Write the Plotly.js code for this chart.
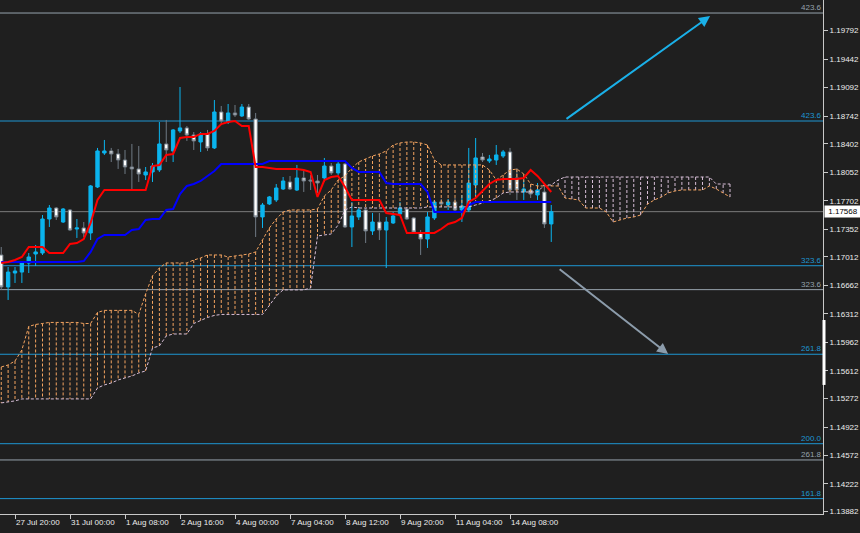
<!DOCTYPE html>
<html><head><meta charset="utf-8">
<script src="https://cdn.plot.ly/plotly-3.0.1.min.js"></script>
<style>html,body{margin:0;padding:0;background:#1f1f1f;}#chart{width:860px;height:533px;}</style>
</head><body><div id="chart"></div>
<script>
// ---- data (H4 bars, index 0 = 27 Jul 20:00) ----
const FIRST_BAR = -2;
const candleOpen = [1.17036,1.16643,1.16814,1.16826,1.16937,1.17048,1.17060,1.17478,1.17613,1.17441,1.17589,1.17355,1.17368,1.17306,1.17871,1.18289,1.18314,1.18277,1.18203,1.18117,1.18093,1.18019,1.18056,1.18081,1.18400,1.18314,1.18560,1.18597,1.18510,1.18424,1.18523,1.18351,1.18793,1.18670,1.18781,1.18744,1.18854,1.18707,1.17503,1.17663,1.17712,1.17847,1.17933,1.17834,1.17982,1.17957,1.17945,1.17982,1.18129,1.18044,1.18154,1.17380,1.17503,1.17589,1.17331,1.17441,1.17343,1.17429,1.17540,1.17601,1.17491,1.17306,1.17232,1.17491,1.17687,1.17650,1.17687,1.17589,1.17589,1.17896,1.18240,1.18191,1.18203,1.18252,1.18302,1.17982,1.17810,1.17834,1.17773,1.17810,1.17417];
const candleHigh = [1.17134,1.16888,1.16888,1.16962,1.17060,1.17159,1.17527,1.17650,1.17625,1.17613,1.17601,1.17478,1.17441,1.17896,1.18351,1.18449,1.18351,1.18338,1.18326,1.18400,1.18375,1.18117,1.18166,1.18670,1.18695,1.18584,1.19100,1.18621,1.18547,1.18547,1.18572,1.18940,1.18867,1.18891,1.18879,1.18891,1.18891,1.18781,1.17675,1.17761,1.17908,1.17994,1.18006,1.18142,1.18081,1.18019,1.18019,1.18228,1.18166,1.18178,1.18166,1.17687,1.17625,1.17613,1.17552,1.17552,1.17503,1.17564,1.17687,1.17625,1.17503,1.17343,1.17564,1.17712,1.17724,1.17724,1.17736,1.17773,1.18351,1.18473,1.18289,1.18265,1.18387,1.18326,1.18351,1.18105,1.17957,1.17896,1.17920,1.17920,1.17650];
const candleLow = [1.16606,1.16483,1.16692,1.16692,1.16814,1.16900,1.17036,1.17380,1.17466,1.17429,1.17331,1.17245,1.17257,1.17220,1.17859,1.18265,1.18178,1.18093,1.18031,1.17834,1.17933,1.17957,1.17933,1.18056,1.18178,1.18178,1.18535,1.18437,1.18326,1.18302,1.18314,1.18338,1.18645,1.18645,1.18732,1.18732,1.18695,1.17257,1.17368,1.17650,1.17687,1.17834,1.17834,1.17822,1.17810,1.17834,1.17798,1.17933,1.18019,1.18019,1.17368,1.17134,1.17466,1.17183,1.17282,1.17220,1.16876,1.17417,1.17527,1.17466,1.17306,1.17036,1.17122,1.17466,1.17625,1.17589,1.17564,1.17441,1.17564,1.17773,1.18178,1.18166,1.18142,1.18228,1.17773,1.17712,1.17712,1.17736,1.17712,1.17368,1.17196];
const candleClose = [1.16643,1.16826,1.16839,1.16937,1.17011,1.17073,1.17478,1.17613,1.17503,1.17601,1.17343,1.17368,1.17306,1.17884,1.18314,1.18314,1.18277,1.18203,1.18117,1.18093,1.18031,1.18056,1.18129,1.18400,1.18326,1.18572,1.18597,1.18510,1.18437,1.18523,1.18351,1.18793,1.18682,1.18781,1.18756,1.18854,1.18707,1.17503,1.17650,1.17749,1.17859,1.17945,1.17847,1.17982,1.17945,1.17945,1.17920,1.18129,1.18044,1.18154,1.17380,1.17515,1.17589,1.17331,1.17441,1.17343,1.17441,1.17515,1.17613,1.17478,1.17318,1.17232,1.17503,1.17687,1.17663,1.17687,1.17589,1.17638,1.17920,1.18228,1.18203,1.18215,1.18265,1.18302,1.17834,1.17834,1.17847,1.17785,1.17834,1.17417,1.17568];
const tenkanSen = [1.16937,1.16950,1.16974,1.17011,1.17134,1.17134,1.17134,1.17060,1.17060,1.17060,1.17171,1.17183,1.17232,1.17429,1.17712,1.17834,1.17834,1.17834,1.17834,1.17834,1.17834,1.17834,1.18129,1.18142,1.18265,1.18277,1.18473,1.18486,1.18486,1.18523,1.18523,1.18560,1.18645,1.18670,1.18682,1.18621,1.18621,1.18117,1.18117,1.18105,1.18093,1.18093,1.18093,1.18093,1.18081,1.18056,1.17749,1.17957,1.17994,1.18006,1.17871,1.17712,1.17712,1.17712,1.17712,1.17712,1.17552,1.17540,1.17527,1.17306,1.17306,1.17306,1.17306,1.17306,1.17355,1.17417,1.17441,1.17491,1.17687,1.17736,1.17822,1.17908,1.17957,1.17970,1.17970,1.17970,1.17982,1.18080,1.18007,1.17908,1.17810];
const kijunSen = [1.16950,1.16950,1.16950,1.16950,1.16950,1.16950,1.16950,1.16950,1.16950,1.16950,1.16950,1.16950,1.16962,1.17073,1.17232,1.17282,1.17282,1.17282,1.17282,1.17343,1.17355,1.17466,1.17478,1.17478,1.17589,1.17601,1.17785,1.17884,1.17908,1.17945,1.18006,1.18068,1.18154,1.18154,1.18154,1.18154,1.18154,1.18154,1.18154,1.18191,1.18191,1.18191,1.18191,1.18191,1.18191,1.18191,1.18191,1.18191,1.18191,1.18191,1.18191,1.18105,1.18056,1.18056,1.18056,1.18056,1.17920,1.17908,1.17908,1.17908,1.17908,1.17908,1.17810,1.17564,1.17564,1.17564,1.17564,1.17564,1.17650,1.17687,1.17687,1.17687,1.17687,1.17687,1.17687,1.17687,1.17687,1.17687,1.17687,1.17687,1.17687];
const senkouA = [1.15660,1.15684,1.15733,1.15869,1.16158,1.16182,1.16194,1.16207,1.16207,1.16207,1.16207,1.16207,1.16194,1.16194,1.16330,1.16355,1.16355,1.16355,1.16355,1.16355,1.16305,1.16558,1.16779,1.16876,1.16938,1.16938,1.16938,1.16938,1.16974,1.16999,1.17036,1.17036,1.17036,1.17011,1.17024,1.17036,1.17048,1.17073,1.17220,1.17368,1.17478,1.17564,1.17589,1.17589,1.17589,1.17589,1.17601,1.17761,1.17835,1.17957,1.18007,1.18105,1.18179,1.18215,1.18252,1.18277,1.18314,1.18387,1.18412,1.18424,1.18424,1.18412,1.18387,1.18203,1.18142,1.18142,1.18142,1.18142,1.18142,1.18142,1.18142,1.18080,1.17957,1.18019,1.18080,1.18092,1.18031,1.17908,1.17884,1.17884,1.17884,1.17884,1.17736,1.17724,1.17712,1.17613,1.17613,1.17613,1.17564,1.17441,1.17466,1.17490,1.17503,1.17527,1.17662,1.17712,1.17748,1.17798,1.17822,1.17835,1.17835,1.17835,1.17835,1.17884,1.17847,1.17798,1.17748];
const senkouB = [1.15218,1.15231,1.15243,1.15267,1.15267,1.15267,1.15267,1.15267,1.15267,1.15267,1.15267,1.15267,1.15267,1.15267,1.15402,1.15439,1.15463,1.15500,1.15525,1.15549,1.15586,1.15611,1.15893,1.15918,1.16041,1.16065,1.16065,1.16065,1.16194,1.16231,1.16268,1.16293,1.16305,1.16305,1.16305,1.16305,1.16305,1.16305,1.16305,1.16416,1.16533,1.16607,1.16607,1.16607,1.16607,1.16630,1.17269,1.17282,1.17294,1.17404,1.17589,1.17626,1.17613,1.17613,1.17613,1.17613,1.17613,1.17613,1.17613,1.17613,1.17613,1.17613,1.17626,1.17626,1.17626,1.17626,1.17626,1.17626,1.17626,1.17650,1.17675,1.17699,1.17736,1.17798,1.17810,1.17810,1.17810,1.17810,1.17810,1.17896,1.17896,1.17957,1.17994,1.17994,1.17994,1.17994,1.17994,1.17994,1.17994,1.17994,1.17994,1.17994,1.17994,1.17994,1.17994,1.17994,1.17994,1.17994,1.17994,1.17994,1.17994,1.17994,1.17994,1.17994,1.17908,1.17908,1.17908];
const xTickBars = [0, 8, 16, 24, 32, 40, 48, 56, 64, 72];
const xTickText = ['27 Jul 20:00','31 Jul 00:00','1 Aug 08:00','2 Aug 16:00','4 Aug 00:00','7 Aug 04:00','8 Aug 12:00','9 Aug 20:00','11 Aug 04:00','14 Aug 08:00'];
const yTickText = ['1.13882','1.14222','1.14572','1.14922','1.15272','1.15612','1.15962','1.16312','1.16662','1.17012','1.17352','1.17702','1.18052','1.18402','1.18742','1.19092','1.19442','1.19792'];
const blueFiboPrices = [1.18682, 1.16904, 1.15816, 1.14717, 1.14042];
const blueFiboLabels = ['423.6','323.6','261.8','200.0','161.8'];
const grayFiboPrices = [1.20009, 1.16610, 1.14517];
const grayFiboLabels = ['423.6','323.6','261.8'];
const currentPrice = 1.17568;
const scaleHandle = [1.15439, 1.16237];
const arrowFromBar = [80, 79];
const arrowFromPrice = [1.18695, 1.16876];
const arrowToBar = [101.1, 95];
const arrowToPrice = [1.19972, 1.15819];

// ---- styles ----
const BG = '#1f1f1f', AXIS = '#c8c8c8', TXT = '#ececec';
const BULL = '#0bb4ee', BEAR_LINE = '#6f7a84', BEAR_FILL = '#ffffff';
const SANDY = '#f4a460', THISTLE = '#d8bfd8';
const BLUE_FIBO = '#1e96d2', GRAY_FIBO = '#96a2ac';
const ARROW_COLORS = ['#1ab0e8', '#8c9cab'];
const FONT = 'Liberation Sans, Arial, sans-serif';

const barX = candleOpen.map((_, k) => FIRST_BAR + k);
const cloudX = senkouA.map((_, k) => FIRST_BAR + k);

const hatchUp = {x: [], y: []}, hatchDn = {x: [], y: []};
senkouA.forEach((a, k) => {
  const b = senkouB[k], h = a >= b ? hatchUp : hatchDn;
  h.x.push(cloudX[k], cloudX[k], null); h.y.push(a, b, null);
});

const traces = [
  {type: 'candlestick', x: barX, open: candleOpen, high: candleHigh, low: candleLow, close: candleClose,
   increasing: {line: {color: BULL, width: 1}, fillcolor: BULL},
   decreasing: {line: {color: BEAR_LINE, width: 1}, fillcolor: BEAR_FILL},
   whiskerwidth: 0, hoverinfo: 'skip'},
  {type: 'scatter', mode: 'lines', x: hatchUp.x, y: hatchUp.y, line: {color: SANDY, width: 1, dash: '3px,2px'}, hoverinfo: 'skip'},
  {type: 'scatter', mode: 'lines', x: hatchDn.x, y: hatchDn.y, line: {color: THISTLE, width: 1, dash: '3px,2px'}, hoverinfo: 'skip'},
  {type: 'scatter', mode: 'lines', x: cloudX, y: senkouA, line: {color: SANDY, width: 1, dash: '3px,2px'}, hoverinfo: 'skip'},
  {type: 'scatter', mode: 'lines', x: cloudX, y: senkouB, line: {color: THISTLE, width: 1, dash: '3px,2px'}, hoverinfo: 'skip'},
  {type: 'scatter', mode: 'lines', x: barX, y: kijunSen, line: {color: '#0000ff', width: 2}, hoverinfo: 'skip'},
  {type: 'scatter', mode: 'lines', x: barX, y: tenkanSen, line: {color: '#ff0000', width: 2}, hoverinfo: 'skip'}
];

const shapes = [], annotations = [];
function fibo(prices, labels, color) {
  prices.forEach((p, k) => {
    shapes.push({type: 'line', xref: 'paper', x0: 0, x1: 1, yref: 'y', y0: p, y1: p, line: {color: color, width: 1}, layer: 'below'});
    annotations.push({xref: 'paper', x: 1, xanchor: 'right', yref: 'y', y: p, yanchor: 'bottom', text: labels[k], showarrow: false,
      font: {family: FONT, size: 8, color: color}, borderpad: 0, yshift: 0});
  });
}
fibo(blueFiboPrices, blueFiboLabels, BLUE_FIBO);
fibo(grayFiboPrices, grayFiboLabels, GRAY_FIBO);
shapes.push({type: 'line', xref: 'paper', x0: 0, x1: 1, yref: 'y', y0: currentPrice, y1: currentPrice, line: {color: '#7c7c7c', width: 1}, layer: 'below'});
// price-scale drag handle on the axis
shapes.push({type: 'line', xref: 'paper', x0: 1, x1: 1, xsizemode: 'pixel', xanchor: 1, yref: 'y', y0: scaleHandle[0], y1: scaleHandle[1],
  line: {color: '#ffffff', width: 3}, layer: 'above'});
annotations.push({xref: 'paper', x: 1, xanchor: 'left', xshift: 1, yref: 'y', y: currentPrice, yanchor: 'middle', text: currentPrice.toFixed(5), showarrow: false,
  font: {family: FONT, size: 8, color: '#000000'}, bgcolor: '#ffffff', borderpad: 1, width: 34, align: 'center'});
arrowToBar.forEach((tb, k) => {
  annotations.push({x: tb, y: arrowToPrice[k], xref: 'x', yref: 'y', ax: arrowFromBar[k], ay: arrowFromPrice[k], axref: 'x', ayref: 'y',
    text: '', showarrow: true, arrowhead: 2, arrowsize: 1.1, arrowwidth: 2, arrowcolor: ARROW_COLORS[k], standoff: 0, startstandoff: 0});
});

const layout = {
  width: 860, height: 533,
  margin: {l: 0, r: 37, t: 0, b: 19, pad: 0},
  paper_bgcolor: BG, plot_bgcolor: BG, showlegend: false,
  font: {family: FONT, size: 8, color: TXT},
  xaxis: {range: [-2.1818, 117.527], tickmode: 'array', tickvals: xTickBars, ticktext: xTickText,
    showgrid: false, zeroline: false, showline: true, linecolor: AXIS, linewidth: 1,
    ticks: 'outside', ticklen: 4, tickcolor: AXIS, tickwidth: 1, tickangle: 0, ticklabelposition: 'outside right',
    tickfont: {family: FONT, size: 8, color: TXT}, rangeslider: {visible: false}, fixedrange: true},
  yaxis: {range: [1.13853, 1.20169], side: 'right', tickmode: 'array', tickvals: yTickText.map(Number), ticktext: yTickText,
    showgrid: false, zeroline: false, showline: true, linecolor: AXIS, linewidth: 1,
    ticks: 'outside', ticklen: 4, tickcolor: AXIS, tickwidth: 1,
    tickfont: {family: FONT, size: 8, color: TXT}, fixedrange: true},
  shapes: shapes, annotations: annotations
};
Plotly.newPlot('chart', traces, layout, {displayModeBar: false, staticPlot: true});
</script></body></html>
